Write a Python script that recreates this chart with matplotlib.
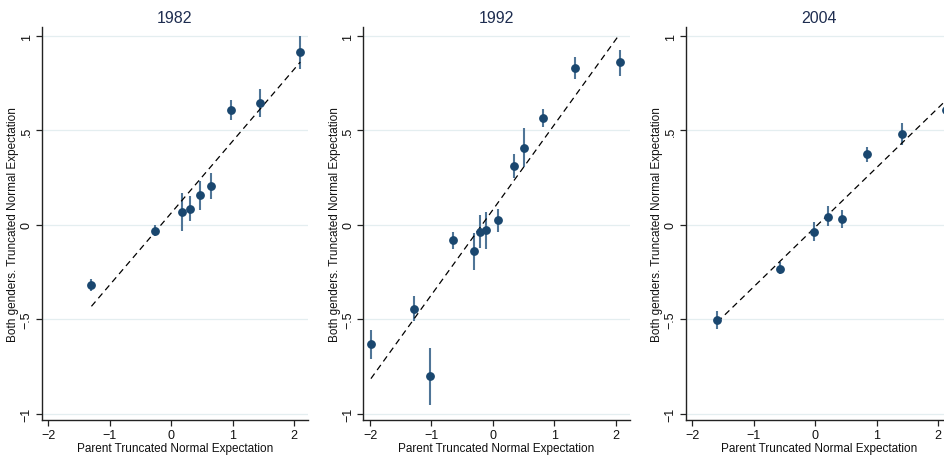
import numpy as np
import matplotlib
matplotlib.use("Agg")
import matplotlib.pyplot as plt
from matplotlib.ticker import FuncFormatter

plt.rcParams['font.family'] = ['Liberation Sans', 'DejaVu Sans']

years = ["1982", "1992", "2004"]

# 1982
x_82 = [-1.30, -0.27, 0.18, 0.31, 0.47, 0.645, 0.976, 1.447, 2.10]
y_82 = [-0.318, -0.030, 0.067, 0.085, 0.157, 0.205, 0.607, 0.646, 0.913]
lo_82 = [-0.350, -0.060, -0.033, 0.020, 0.081, 0.138, 0.555, 0.572, 0.826]
hi_82 = [-0.284, 0.000, 0.169, 0.154, 0.235, 0.274, 0.664, 0.722, 1.000]
fit_x_82 = [-1.30, 2.10]
fit_y_82 = [-0.431, 0.862]

# 1992
x_92 = [-1.986, -1.29, -1.02, -0.645, -0.314, -0.217, -0.114, 0.081, 0.337, 0.505, 0.809, 1.342, 2.063]
y_92 = [-0.632, -0.445, -0.801, -0.081, -0.139, -0.037, -0.028, 0.026, 0.311, 0.408, 0.568, 0.830, 0.860]
lo_92 = [-0.711, -0.510, -0.952, -0.127, -0.237, -0.123, -0.127, -0.035, 0.249, 0.306, 0.521, 0.770, 0.791]
hi_92 = [-0.555, -0.378, -0.651, -0.035, -0.044, 0.053, 0.067, 0.085, 0.376, 0.515, 0.616, 0.890, 0.927]
fit_x_92 = [-1.986, 2.063]
fit_y_92 = [-0.814, 1.009]

# 2004
x_04 = [-1.596, -0.578, -0.028, 0.201, 0.435, 0.849, 1.415, 2.13]
y_04 = [-0.505, -0.231, -0.035, 0.044, 0.030, 0.374, 0.480, 0.611]
lo_04 = [-0.549, -0.261, -0.086, -0.007, -0.018, 0.335, 0.424, 0.570]
hi_04 = [-0.457, -0.194, 0.017, 0.099, 0.079, 0.415, 0.537, 0.650]
fit_x_04 = [-1.596, 2.13]
fit_y_04 = [-0.515, 0.660]

panels = [
    (x_82, y_82, lo_82, hi_82, fit_x_82, fit_y_82),
    (x_92, y_92, lo_92, hi_92, fit_x_92, fit_y_92),
    (x_04, y_04, lo_04, hi_04, fit_x_04, fit_y_04),
]

xticks = [-2, -1, 0, 1, 2]
yticks = [-1, -0.5, 0, 0.5, 1]
ytick_labels = ["\u22121", "\u2212.5", "0", ".5", "1"]


def stata_num(v, pos=None):
    return str(int(v)).replace("-", "\u2212")


W, H = 945, 456
fig = plt.figure(figsize=(W / 100, H / 100), dpi=100)

lefts = [41.7, 363.3, 685.7]
ax_w, ax_bot, ax_h = 266.5, 35.0, 393.4

navy = "#1a476f"
for i, (xs, ys, lo, hi, fx, fy) in enumerate(panels):
    ax = fig.add_axes([lefts[i] / W, ax_bot / H, ax_w / W, ax_h / H])
    ax.set_xlim(-2.11, 2.23)
    ax.set_ylim(-1.033, 1.05)
    for t in yticks:
        ax.axhline(t, color="#e4eef0", lw=0.9, zorder=0)
    ax.vlines(xs, lo, hi, color="#4f7597", lw=1.5, zorder=2)
    ax.plot(fx, fy, color="black", lw=0.9, ls=(0, (5, 3.5)), zorder=3)
    ax.plot(xs, ys, "o", color=navy, ms=5.3, mec=navy, zorder=4)

    for s in ["top", "right"]:
        ax.spines[s].set_visible(False)
    for s in ["left", "bottom"]:
        ax.spines[s].set_color("#222222")
        ax.spines[s].set_linewidth(1.0)

    ax.set_xticks(xticks)
    ax.xaxis.set_major_formatter(FuncFormatter(stata_num))
    ax.set_yticks(yticks)
    ax.set_yticklabels(ytick_labels, rotation=90, va="center")
    ax.tick_params(axis="both", labelsize=9, length=4, width=0.9,
                   color="#222222", labelcolor="#111111", pad=2.5)

    ax.set_xlabel("Parent Truncated Normal Expectation", fontsize=8.5,
                  color="#111111", labelpad=1)
    ax.set_ylabel("Both genders. Truncated Normal Expectation", fontsize=8.5,
                  color="#111111", labelpad=1)
    ax.set_title(years[i], fontsize=11.5, color="#1e2d50", pad=3)

fig.savefig("out.png", dpi=100)
